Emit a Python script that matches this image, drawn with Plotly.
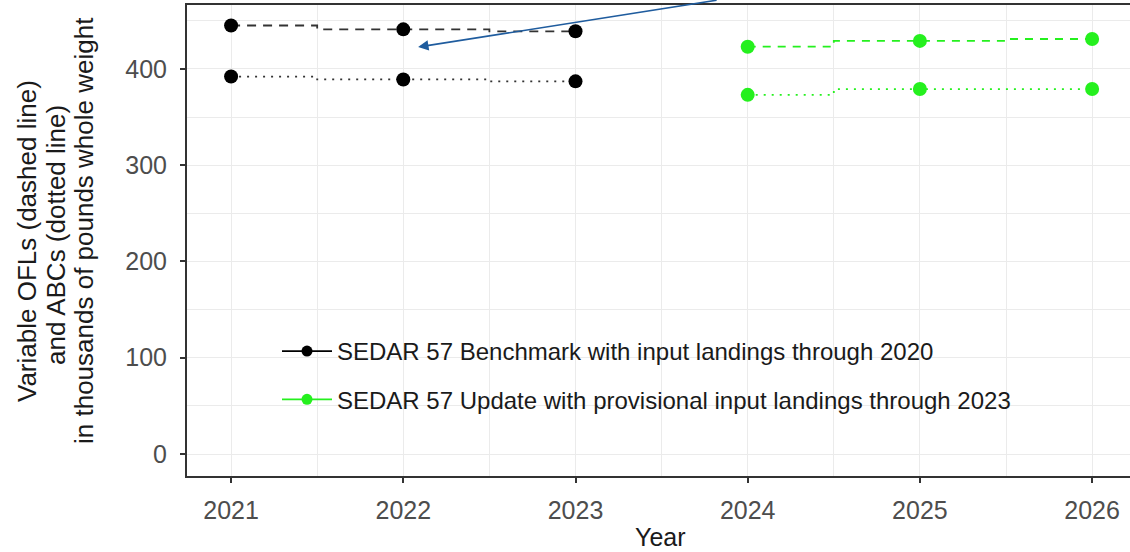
import plotly.graph_objects as go

# --- Data (thousands of lb whole weight) ---
years_bench = [2021, 2022, 2023]
ofl_bench = [445, 441, 439]
abc_bench = [392, 389, 387]

years_update = [2024, 2025, 2026]
ofl_update = [423, 429, 431]
abc_update = [373, 379, 379]

x_ticks = [2021, 2022, 2023, 2024, 2025, 2026]
y_ticks = [0, 100, 200, 300, 400]

name_bench = "SEDAR 57 Benchmark with input landings through 2020"
name_update = "SEDAR 57 Update with provisional input landings through 2023"
ytitle_lines = [
    "Variable OFLs (dashed line)",
    "and ABCs (dotted line)",
    "in thousands of pounds whole weight",
]

# --- Style ---
BLACK = "#000000"
LINE_DARK = "#333333"
GREEN = "#25F01E"
ARROW = "#1F5C9E"
GRID = "#EBEBEB"
AXIS = "#333333"
TICK_TXT = "#4D4D4D"
FONT = "Arial, Liberation Sans, sans-serif"

fig = go.Figure()

series = [
    (years_bench, ofl_bench, LINE_DARK, BLACK, "9px,7px"),
    (years_bench, abc_bench, LINE_DARK, BLACK, "2px,6px"),
    (years_update, ofl_update, GREEN, GREEN, "8px,7px"),
    (years_update, abc_update, GREEN, GREEN, "2px,6px"),
]
for xs, ys, lcol, mcol, dash in series:
    fig.add_trace(
        go.Scatter(
            x=xs, y=ys, mode="lines+markers", showlegend=False,
            line=dict(color=lcol, width=1.8, dash=dash, shape="hvh"),
            marker=dict(color=mcol, size=14),
        )
    )

# legend-only entries (solid key like ggplot)
for name, lcol, mcol, grp in [
    (name_bench, BLACK, BLACK, "a"), (name_update, GREEN, GREEN, "b")
]:
    fig.add_trace(
        go.Scatter(
            x=[None], y=[None], mode="lines+markers", name=name,
            legendgroup=grp,
            line=dict(color=lcol, width=1.8),
            marker=dict(color=mcol, size=11),
        )
    )

# arrow pointing at the benchmark series
fig.add_annotation(
    x=2022.086, y=422.6, xref="x", yref="y",
    ax=300, ay=-50, axref="pixel", ayref="pixel",
    showarrow=True, arrowhead=2, arrowsize=1.3, arrowwidth=1.6,
    arrowcolor=ARROW, text="", standoff=0,
)

# y-axis title, one annotation per line
for txt, px, py in zip(ytitle_lines, [27, 56, 84], [241, 235, 231]):
    fig.add_annotation(
        text=txt, textangle=-90, showarrow=False,
        xref="paper", yref="paper",
        x=(px - 187) / 943, y=(476 - py) / 471,
        xanchor="center", yanchor="middle",
        font=dict(family=FONT, size=26, color="#1A1A1A"),
    )

fig.add_annotation(
    text="Year", showarrow=False, xref="paper", yref="paper",
    x=(660 - 187) / 943, y=(476 - 537) / 471,
    xanchor="center", yanchor="middle",
    font=dict(family=FONT, size=25, color="#1A1A1A"),
)

fig.update_xaxes(
    range=[2020.744, 2026.22], tickvals=x_ticks,
    showgrid=True, gridcolor=GRID, gridwidth=1.2,
    minor=dict(dtick=0.5, tick0=2020.5, showgrid=True, gridcolor=GRID, gridwidth=0.8),
    zeroline=False, showline=True, linecolor=AXIS, linewidth=2, mirror=True,
    ticks="outside", ticklen=5, tickcolor=AXIS, tickwidth=1.5,
    ticklabelstandoff=6,
    tickfont=dict(family=FONT, size=25, color=TICK_TXT),
)
fig.update_yaxes(
    range=[-22.8, 466.3], tickvals=y_ticks,
    showgrid=True, gridcolor=GRID, gridwidth=1.2,
    minor=dict(dtick=50, tick0=-50, showgrid=True, gridcolor=GRID, gridwidth=0.8),
    zeroline=False, showline=True, linecolor=AXIS, linewidth=2, mirror=False,
    ticks="outside", ticklen=5, tickcolor=AXIS, tickwidth=1.5,
    ticklabelstandoff=8,
    tickfont=dict(family=FONT, size=25, color=TICK_TXT),
)

fig.update_layout(
    width=1130, height=552,
    paper_bgcolor="white", plot_bgcolor="white",
    margin=dict(l=187, r=0, t=5, b=76),
    font=dict(family=FONT, color="#1A1A1A"),
    showlegend=True,
    legend=dict(
        x=(277 - 187) / 943, y=(476 - 329) / 471,
        xanchor="left", yanchor="top",
        bgcolor="rgba(0,0,0,0)", borderwidth=0,
        itemwidth=50, tracegroupgap=14,
        font=dict(family=FONT, size=24, color="#1A1A1A"),
    ),
)

# drop the default 8px page margin so the figure sits at the window origin
fig.write_html(
    "out.html",
    config={"displayModeBar": False},
    post_script="document.body.style.margin='0';",
)
